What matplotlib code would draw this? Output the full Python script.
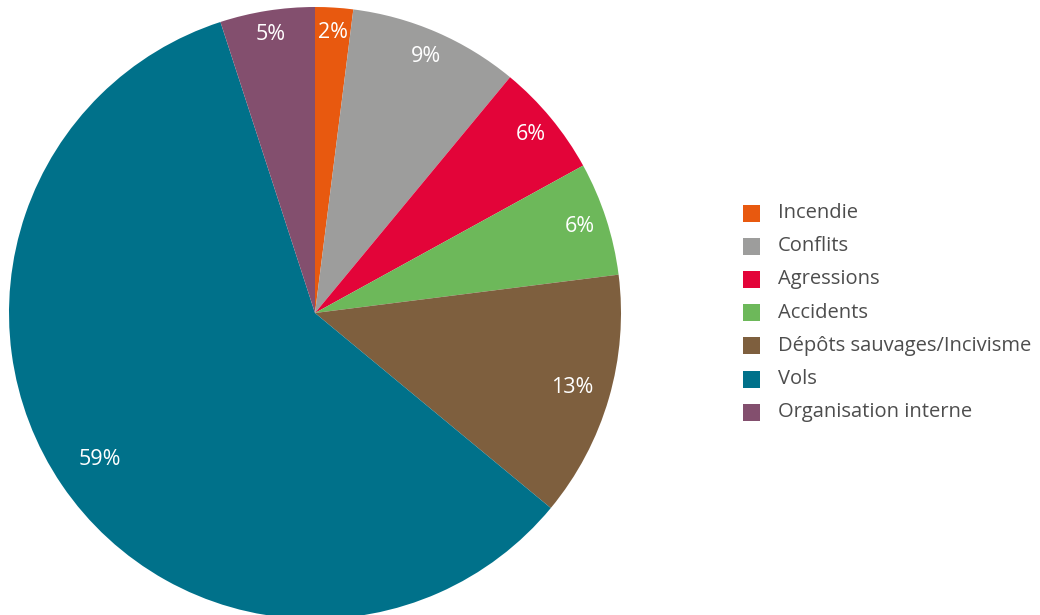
import matplotlib
matplotlib.use("Agg")
import matplotlib.pyplot as plt
from matplotlib.patches import Rectangle
import numpy as np

categories = ["Incendie", "Conflits", "Agressions", "Accidents",
              "Dépôts sauvages/Incivisme", "Vols", "Organisation interne"]
values = [2, 9, 6, 6, 13, 59, 5]
colors = ["#E8590F", "#9D9D9C", "#E30439", "#6DB85A",
          "#7E5F3E", "#00718A", "#834F6E"]

plt.rcParams["font.family"] = ["Open Sans", "DejaVu Sans"]

W, H = 1040, 615
fig = plt.figure(figsize=(W / 100, H / 100), dpi=100)
ax = fig.add_axes([0, 0, 1, 1])

cx, cy, r = 315, H - 313, 306
label_r = [0.92, 0.915, 0.915, 0.91, 0.875, 0.85, 0.92]

wedges, _ = ax.pie(values, colors=colors, startangle=90, counterclock=False,
                   center=(cx, cy), radius=r, frame=True,
                   wedgeprops=dict(linewidth=0))
ax.set_xlim(0, W)
ax.set_ylim(0, H)
ax.set_aspect("equal")
ax.axis("off")

for w, v, d in zip(wedges, values, label_r):
    ang = np.deg2rad((w.theta1 + w.theta2) / 2)
    x = cx + d * r * np.cos(ang)
    y = cy + d * r * np.sin(ang)
    ax.text(x, y, f"{v}%", color="white", fontsize=15.5,
            ha="center", va="center")

# legend
lx, ly0, step, sq = 743, 213, 33.2, 17
for i, (name, c) in enumerate(zip(categories, colors)):
    yc = H - (ly0 + i * step)
    ax.add_patch(Rectangle((lx, yc - sq / 2), sq, sq, color=c, lw=0))
    ax.text(lx + 35, yc, name, color="#4D4D4D", fontsize=14.5,
            ha="left", va="center")

fig.savefig("out.png", dpi=100)
